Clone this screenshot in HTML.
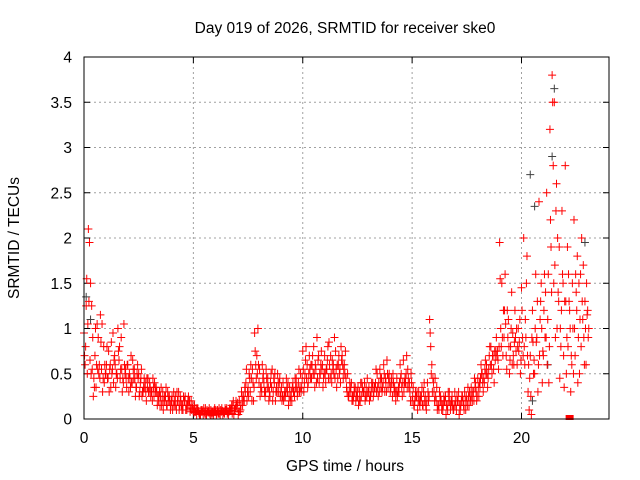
<!DOCTYPE html>
<html><head><meta charset="utf-8"><style>
body{margin:0;background:#fff}
svg{display:block;font-family:"Liberation Sans",sans-serif;font-size:15.5px}
</style></head><body>
<svg id="chart" width="640" height="480" viewBox="0 0 640 480">
<rect width="640" height="480" fill="#fff"/>
<text x="345" y="33" text-anchor="middle">Day 019 of 2026, SRMTID for receiver ske0</text>
<text x="345" y="471" text-anchor="middle">GPS time / hours</text>
<text transform="translate(19,238) rotate(-90)" text-anchor="middle">SRMTID / TECUs</text>
<g id="grid"></g><g id="ticks"></g><g id="marks"></g>
<rect x="84" y="57" width="525" height="362" fill="none" stroke="#000"/>
</svg>
<script>
const xTicks=[0,5,10,15,20];
const yTicks=[0,0.5,1,1.5,2,2.5,3,3.5,4];
const yTickLabels=["0","0.5","1","1.5","2","2.5","3","3.5","4"];
const times=[];for(let i=0;i<=230;i++)times.push(i/10);
const seriesA=[0.95,1.25,2.1,1.5,0.9,0.7,1.05,0.6,0.55,0.8,
0.5,0.45,0.6,0.55,0.7,0.5,0.65,0.9,0.4,0.55,
0.6,0.45,0.4,0.55,0.35,0.5,0.45,0.3,0.4,0.35,
0.4,0.3,0.25,0.35,0.2,0.25,0.3,0.2,0.15,0.25,
0.2,0.3,0.15,0.2,0.25,0.15,0.2,0.1,0.15,0.2,
0.1,0.08,0.12,0.06,0.1,0.08,0.05,0.09,0.1,0.07,
0.08,0.1,0.06,0.12,0.08,0.1,0.05,0.09,0.15,0.1,
0.12,0.2,0.3,0.25,0.4,0.35,0.3,0.55,0.95,0.7,
0.4,0.35,0.5,0.3,0.45,0.25,0.55,0.4,0.35,0.3,
0.3,0.4,0.25,0.3,0.35,0.2,0.3,0.45,0.4,0.5,
0.75,0.5,0.6,0.7,0.45,0.8,0.55,0.65,0.5,0.6,
0.7,0.55,0.85,0.5,0.6,0.75,0.45,0.55,0.7,0.6,
0.35,0.25,0.3,0.2,0.35,0.25,0.3,0.4,0.3,0.35,
0.3,0.25,0.4,0.35,0.5,0.3,0.45,0.6,0.4,0.35,
0.3,0.25,0.35,0.45,0.3,0.5,0.65,0.4,0.55,0.3,
0.2,0.15,0.25,0.3,0.2,0.15,0.25,0.4,1.1,0.6,
0.3,0.2,0.15,0.25,0.1,0.2,0.15,0.3,0.2,0.1,
0.15,0.2,0.1,0.25,0.3,0.2,0.15,0.35,0.3,0.4,
0.45,0.35,0.5,0.4,0.6,0.55,0.8,0.7,0.65,0.75,
1.95,1.5,0.9,0.7,1.1,0.8,0.95,1.2,0.6,0.85,
1.45,2.0,0.9,0.3,0.7,1.2,0.5,0.9,2.4,1.5,
0.7,1.4,1.1,3.2,3.8,3.5,2.6,1.3,0.8,1.5,
2.8,1.9,1.2,0.6,2.2,1.4,0.9,1.6,1.1,1.3,1.15];
const seriesB=[0.6,0.5,1.95,1.25,0.45,0.35,0.9,1.15,0.3,0.6,
0.8,0.3,0.85,0.4,0.35,1.0,0.45,0.3,0.6,0.35,
0.3,0.7,0.55,0.25,0.6,0.3,0.25,0.45,0.2,0.3,
0.25,0.45,0.35,0.15,0.3,0.15,0.2,0.35,0.25,0.1,
0.1,0.15,0.3,0.1,0.15,0.25,0.1,0.2,0.08,0.12,
0.15,0.05,0.07,0.1,0.05,0.12,0.08,0.06,0.04,0.1,
0.05,0.06,0.1,0.05,0.12,0.06,0.1,0.15,0.05,0.2,
0.05,0.1,0.15,0.35,0.2,0.5,0.45,0.2,0.6,1.0,
0.25,0.6,0.3,0.45,0.2,0.5,0.3,0.2,0.5,0.45,
0.2,0.25,0.45,0.15,0.25,0.4,0.45,0.25,0.3,0.35,
0.3,0.8,0.4,0.45,0.7,0.35,0.9,0.4,0.75,0.45,
0.4,0.8,0.45,0.65,0.9,0.35,0.7,0.8,0.45,0.75,
0.5,0.4,0.2,0.35,0.25,0.15,0.4,0.3,0.2,0.45,
0.2,0.4,0.3,0.55,0.25,0.45,0.35,0.3,0.65,0.5,
0.45,0.4,0.2,0.3,0.6,0.25,0.4,0.7,0.35,0.5,
0.35,0.3,0.1,0.15,0.35,0.4,0.1,0.2,0.8,0.45,
0.45,0.1,0.3,0.1,0.25,0.05,0.3,0.1,0.15,0.3,
0.25,0.05,0.2,0.15,0.1,0.35,0.25,0.2,0.45,0.2,
0.25,0.6,0.3,0.65,0.35,0.8,0.5,0.4,0.9,0.55,
1.0,0.7,1.6,1.2,0.5,1.4,0.6,0.75,1.0,0.5,
0.9,0.6,1.8,0.1,0.05,0.5,1.6,0.3,1.1,0.4,
1.6,2.5,0.4,1.9,2.8,0.9,2.0,0.45,2.3,0.35,
0.5,1.6,0.3,1.0,0.7,1.8,0.5,2.0,0.9,0.6,0.9];
const seriesC=[0.7,1.55,1.3,0.5,0.25,1.0,0.55,0.45,1.05,0.4,
0.6,0.75,0.35,0.95,0.6,0.45,0.8,0.55,1.05,0.45,
0.45,0.35,0.65,0.45,0.5,0.25,0.55,0.35,0.3,0.45,
0.35,0.2,0.4,0.3,0.25,0.35,0.1,0.25,0.3,0.2,
0.25,0.2,0.1,0.3,0.2,0.1,0.25,0.15,0.2,0.1,
0.07,0.12,0.09,0.05,0.08,0.06,0.1,0.12,0.07,0.05,
0.1,0.08,0.05,0.09,0.06,0.12,0.08,0.1,0.2,0.12,
0.18,0.08,0.25,0.2,0.55,0.25,0.6,0.4,0.75,0.5,
0.55,0.3,0.4,0.55,0.35,0.4,0.2,0.5,0.3,0.4,
0.35,0.2,0.3,0.4,0.2,0.35,0.25,0.35,0.55,0.3,
0.55,0.65,0.35,0.55,0.6,0.5,0.4,0.7,0.6,0.35,
0.5,0.65,0.6,0.4,0.5,0.55,0.6,0.4,0.6,0.5,
0.3,0.3,0.4,0.25,0.2,0.35,0.2,0.35,0.4,0.25,
0.35,0.3,0.25,0.4,0.35,0.55,0.3,0.5,0.3,0.45,
0.35,0.5,0.3,0.25,0.4,0.35,0.3,0.5,0.45,0.2,
0.25,0.2,0.3,0.2,0.25,0.3,0.15,0.3,0.95,0.3,
0.2,0.35,0.1,0.2,0.15,0.25,0.1,0.2,0.25,0.15,
0.1,0.3,0.15,0.2,0.2,0.15,0.3,0.25,0.2,0.3,
0.35,0.45,0.4,0.55,0.5,0.7,0.6,0.55,0.75,0.65,
1.55,0.9,1.2,0.55,0.8,1.0,0.7,0.9,0.8,1.1,
1.2,0.8,1.5,0.6,0.25,0.85,1.0,1.3,0.7,1.0,
1.2,0.9,1.6,2.2,3.5,1.7,1.0,1.9,1.2,0.7,
1.3,0.8,1.0,1.5,1.0,1.2,1.5,0.8,1.7,1.0,1.2];
const seriesD=[0.8,1.05,0.65,0.55,0.35,0.6,0.5,0.85,0.45,0.5,
0.45,0.55,0.5,0.65,0.5,0.75,0.55,0.45,0.5,0.6,
0.5,0.4,0.45,0.35,0.45,0.4,0.3,0.35,0.45,0.3,
0.3,0.35,0.3,0.25,0.15,0.2,0.25,0.15,0.2,0.15,
0.15,0.25,0.2,0.15,0.1,0.2,0.15,0.25,0.12,0.15,
0.08,0.1,0.05,0.08,0.12,0.05,0.07,0.05,0.08,0.12,
0.06,0.12,0.08,0.07,0.1,0.08,0.12,0.06,0.1,0.15,
0.08,0.15,0.2,0.3,0.3,0.45,0.2,0.35,0.45,0.6,
0.35,0.45,0.25,0.35,0.3,0.35,0.45,0.3,0.4,0.25,
0.25,0.3,0.35,0.25,0.3,0.3,0.35,0.3,0.35,0.45,
0.4,0.45,0.5,0.6,0.5,0.6,0.45,0.5,0.55,0.5,
0.55,0.45,0.7,0.55,0.45,0.6,0.5,0.65,0.55,0.45,
0.25,0.35,0.25,0.3,0.3,0.2,0.25,0.3,0.25,0.3,
0.25,0.35,0.35,0.3,0.4,0.35,0.4,0.45,0.5,0.4,
0.4,0.3,0.3,0.35,0.45,0.4,0.45,0.35,0.4,0.4,
0.15,0.25,0.2,0.25,0.15,0.2,0.2,0.25,0.5,0.4,
0.25,0.15,0.2,0.15,0.2,0.15,0.2,0.15,0.1,0.2,
0.2,0.15,0.25,0.1,0.25,0.25,0.2,0.3,0.35,0.25,
0.4,0.5,0.45,0.5,0.45,0.6,0.7,0.75,0.7,0.8,
0.8,1.2,1.05,0.9,0.65,0.6,0.85,1.0,0.75,0.65,
0.7,1.1,0.7,0.45,0.9,0.65,0.85,0.6,1.3,0.75,
0.9,0.6,0.8,1.4,1.5,2.3,1.4,1.0,1.6,1.3,
0.9,1.3,0.7,0.5,1.6,0.4,1.1,1.3,0.6,1.5,1.0];
const grayTimes=[0.1,0.3,20.4,20.6,21.4,21.5,22.9,20.5,21.2];
const grayValues=[1.35,1.1,2.7,2.35,2.9,3.65,1.95,0.2,0.6];
const NS="http://www.w3.org/2000/svg";
const X0=84,X1=609,Y0=419,Y1=57,XMAX=24,YMAX=4;
function xs(v){return X0+(X1-X0)*v/XMAX;}
function ys(v){return Y0-(Y0-Y1)*v/YMAX;}
function mk(tag,attrs,parent){const e=document.createElementNS(NS,tag);for(const k in attrs)e.setAttribute(k,attrs[k]);parent.appendChild(e);return e;}
const grid=document.getElementById('grid'),ticks=document.getElementById('ticks'),marks=document.getElementById('marks');
xTicks.forEach(t=>{const x=xs(t);
 if(t>0){const g=mk('line',{x1:x,x2:x,y1:Y1,y2:Y0,stroke:'#a0a0a0','stroke-dasharray':'2,3'},grid);
 
 }
 const tk=mk('path',{d:`M${x},${Y0}v-6M${x},${Y1}v6`,stroke:'#000'},ticks);
 
 
 const l=mk('text',{x:x,y:Y0+24,'text-anchor':'middle'},ticks);l.textContent=t;
 
 });
yTicks.forEach((t,i)=>{const y=ys(t);
 if(t>0&&t<YMAX){const g=mk('line',{x1:X0,x2:X1,y1:y,y2:y,stroke:'#a0a0a0','stroke-dasharray':'2,3'},grid);
 
 }
 const tk=mk('path',{d:`M${X0},${y}h6M${X1},${y}h-6`,stroke:'#000'},ticks);
 
 
 const l=mk('text',{x:X0-12,y:y+5.5,'text-anchor':'end'},ticks);l.textContent=yTickLabels[i];
 
 });
function plus(t,v,color,name){const x=xs(t),y=ys(v);
 const p=mk('path',{d:`M${x-4},${y}h8M${x},${y-4}v8`,stroke:color,'stroke-width':1},marks);
 
 }
grayTimes.forEach((t,i)=>plus(t,grayValues[i],'#404040','gray-point'));
times.forEach((t,i)=>{
 plus(t,seriesA[i],'#ff0000','point-a');
 plus(t+0.025,seriesC[i],'#ff0000','point-c');
 plus(t+0.05,seriesB[i],'#ff0000','point-b');
 plus(t+0.075,seriesD[i],'#ff0000','point-d');});
const sq=mk('rect',{x:xs(22.2)-4,y:Y0-4,width:8,height:5,fill:'#ff0000'},marks);


</script>
</body></html>
